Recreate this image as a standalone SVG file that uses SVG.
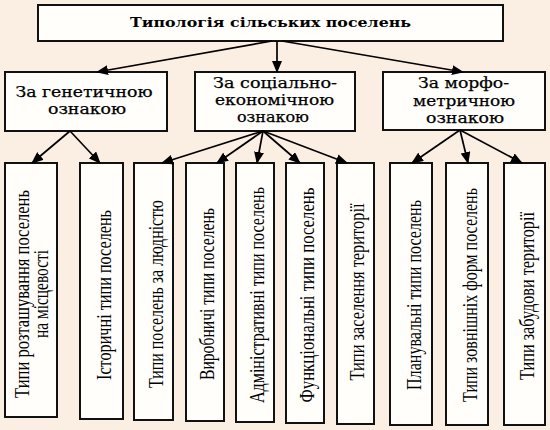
<svg xmlns="http://www.w3.org/2000/svg" width="550" height="430" viewBox="0 0 550 430">
<defs>
<marker id="ah" markerUnits="userSpaceOnUse" markerWidth="12" markerHeight="10" refX="11" refY="5" orient="auto">
<path d="M0,0 L12,5 L0,10 Z" fill="#000"/>
</marker>
<style>
.box{fill:#fffefb;stroke:#111;stroke-width:2}
.t0{font-family:"DejaVu Serif","Liberation Serif",serif;font-weight:bold;font-size:13.5px;fill:#000;text-anchor:middle}
.t1{font-family:"DejaVu Serif","Liberation Serif",serif;font-size:14.5px;fill:#000;stroke:#000;stroke-width:0.25;text-anchor:middle}
.t2{font-family:"Liberation Serif","Times New Roman",serif;font-size:20px;fill:#000;text-anchor:middle}
.c line{stroke:#000;stroke-width:1.7;marker-end:url(#ah)}
</style>
</defs>
<rect width="550" height="430" fill="#fbeee2"/>

<g id="root">
<rect class="box" x="38" y="5" width="465" height="36"/>
<text class="t0" x="270.5" y="27" textLength="281" lengthAdjust="spacingAndGlyphs">Типологія сільських поселень</text>
</g>

<g id="genetic">
<rect class="box" x="5" y="72" width="162" height="59"/>
<text class="t1" x="84" y="97" textLength="137" lengthAdjust="spacingAndGlyphs">За генетичною</text>
<text class="t1" x="87" y="114" textLength="78" lengthAdjust="spacingAndGlyphs">ознакою</text>
</g>

<g id="socioeconomic">
<rect class="box" x="195" y="72" width="160" height="59"/>
<text class="t1" x="275" y="88" textLength="124" lengthAdjust="spacingAndGlyphs">За соціально-</text>
<text class="t1" x="274.5" y="105" textLength="119" lengthAdjust="spacingAndGlyphs">економічною</text>
<text class="t1" x="273" y="122" textLength="72" lengthAdjust="spacingAndGlyphs">ознакою</text>
</g>

<g id="morphometric">
<rect class="box" x="383" y="72" width="162" height="58"/>
<text class="t1" x="463.5" y="88" textLength="91" lengthAdjust="spacingAndGlyphs">За морфо-</text>
<text class="t1" x="464" y="106" textLength="102" lengthAdjust="spacingAndGlyphs">метричною</text>
<text class="t1" x="465" y="123" textLength="78" lengthAdjust="spacingAndGlyphs">ознакою</text>
</g>

<g id="b1">
<rect class="box" x="5" y="163" width="52" height="254"/>
<text class="t2" transform="translate(29,294) rotate(-90)" textLength="208" lengthAdjust="spacingAndGlyphs">Типи розташування поселень</text>
<text class="t2" transform="translate(48,294) rotate(-90)" textLength="88" lengthAdjust="spacingAndGlyphs">на місцевості</text>
</g>
<g id="b2">
<rect class="box" x="80" y="163" width="43" height="256"/>
<text class="t2" transform="translate(111,295) rotate(-90)" textLength="170" lengthAdjust="spacingAndGlyphs">Історичні типи поселень</text>
</g>
<g id="b3">
<rect class="box" x="134" y="163" width="39" height="257"/>
<text class="t2" transform="translate(163,294) rotate(-90)" textLength="188" lengthAdjust="spacingAndGlyphs">Типи поселень за людністю</text>
</g>
<g id="b4">
<rect class="box" x="186" y="163" width="38" height="258"/>
<text class="t2" transform="translate(214,294) rotate(-90)" textLength="172" lengthAdjust="spacingAndGlyphs">Виробничі типи поселень</text>
</g>
<g id="b5">
<rect class="box" x="236" y="163" width="38" height="259"/>
<text class="t2" transform="translate(264,295) rotate(-90)" textLength="216" lengthAdjust="spacingAndGlyphs">Адміністративні типи поселень</text>
</g>
<g id="b6">
<rect class="box" x="286" y="163" width="38" height="260"/>
<text class="t2" transform="translate(314,295) rotate(-90)" textLength="215" lengthAdjust="spacingAndGlyphs">Функціональні типи поселень</text>
</g>
<g id="b7">
<rect class="box" x="337" y="163" width="37" height="261"/>
<text class="t2" transform="translate(364,292) rotate(-90)" textLength="177" lengthAdjust="spacingAndGlyphs">Типи заселення території</text>
</g>
<g id="b8">
<rect class="box" x="390" y="163" width="42" height="262"/>
<text class="t2" transform="translate(421,295) rotate(-90)" textLength="190" lengthAdjust="spacingAndGlyphs">Планувальні типи поселень</text>
</g>
<g id="b9">
<rect class="box" x="446" y="163" width="42" height="262"/>
<text class="t2" transform="translate(477,295) rotate(-90)" textLength="214" lengthAdjust="spacingAndGlyphs">Типи зовнішніх форм поселень</text>
</g>
<g id="b10">
<rect class="box" x="504" y="163" width="41" height="262"/>
<text class="t2" transform="translate(534,296) rotate(-90)" textLength="168" lengthAdjust="spacingAndGlyphs">Типи забудови території</text>
</g>

<g id="connectors" class="c">
<line x1="272" y1="41" x2="97" y2="72"/>
<line x1="277" y1="41" x2="277" y2="72"/>
<line x1="282" y1="41" x2="463" y2="72"/>
<line x1="70" y1="131" x2="32" y2="163"/>
<line x1="70" y1="131" x2="100" y2="163"/>
<line x1="263" y1="131" x2="162" y2="163"/>
<line x1="263" y1="131" x2="217" y2="163"/>
<line x1="263" y1="131" x2="257" y2="163"/>
<line x1="263" y1="131" x2="300" y2="163"/>
<line x1="263" y1="131" x2="347" y2="163"/>
<line x1="460" y1="130" x2="412" y2="163"/>
<line x1="460" y1="130" x2="468" y2="163"/>
<line x1="460" y1="130" x2="522" y2="163"/>
</g>
</svg>
